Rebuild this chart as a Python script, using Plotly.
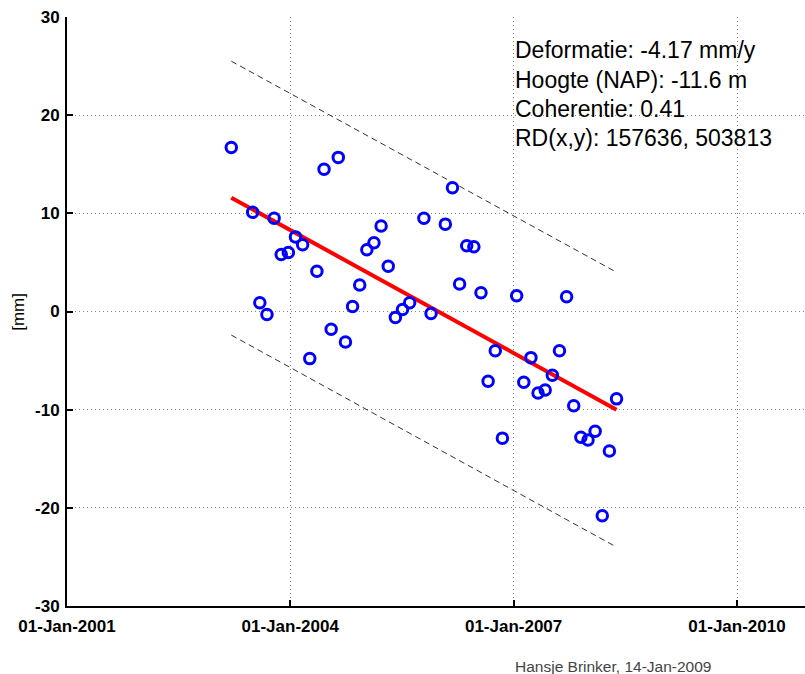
import plotly.graph_objects as go

# ---- data ----
dates = [
    "2003-03-18", "2003-07-01", "2003-08-05", "2003-09-09", "2003-10-14",
    "2003-11-18", "2003-12-23", "2004-01-27", "2004-03-02", "2004-04-06",
    "2004-05-11", "2004-06-15", "2004-07-20", "2004-08-24", "2004-09-28",
    "2004-11-02", "2004-12-07", "2005-01-11", "2005-02-15", "2005-03-22",
    "2005-04-26", "2005-05-31", "2005-07-05", "2005-08-09", "2005-10-18",
    "2005-11-22", "2006-01-31", "2006-03-07", "2006-04-11", "2006-05-16",
    "2006-06-20", "2006-07-25", "2006-08-29", "2006-10-03", "2006-11-07",
    "2007-01-16", "2007-02-20", "2007-03-27", "2007-05-01", "2007-06-05",
    "2007-07-10", "2007-08-14", "2007-09-18", "2007-10-23", "2007-11-27",
    "2008-01-01", "2008-02-05", "2008-03-11", "2008-04-15", "2008-05-20",
]
deformation_mm = [
    16.7, 10.1, 0.9, -0.3, 9.5,
    5.8, 6.0, 7.6, 6.8, -4.8,
    4.1, 14.5, -1.8, 15.7, -3.1,
    0.5, 2.7, 6.3, 7.0, 8.7,
    4.6, -0.6, 0.2, 0.9, 9.5,
    -0.2, 8.9, 12.6, 2.8, 6.7,
    6.6, 1.9, -7.1, -4.0, -12.9,
    1.6, -7.2, -4.7, -8.3, -8.0,
    -6.5, -4.0, 1.5, -9.6, -12.8,
    -13.1, -12.2, -20.8, -14.2, -8.9,
]

trend_dates = ["2003-03-18", "2008-05-20"]
trend_mm = [11.6, -10.0]
upper_mm = [25.5, 4.0]
lower_mm = [-2.4, -24.0]

x_ticks = ["2001-01-01", "2004-01-01", "2007-01-01", "2010-01-01"]
y_ticks = [-30, -20, -10, 0, 10, 20, 30]
y_tick_labels = ["-30", "-20", "-10", "0", "10", "20", "30"]

info_lines = [
    "Deformatie: -4.17 mm/y",
    "Hoogte (NAP): -11.6 m",
    "Coherentie: 0.41",
    "RD(x,y): 157636, 503813",
]
y_label = "[mm]"
footer = "Hansje Brinker, 14-Jan-2009"

FONT = "Liberation Sans, Arial, sans-serif"

fig = go.Figure()
fig.add_trace(go.Scatter(x=trend_dates, y=upper_mm, mode="lines",
                         line=dict(color="#333333", width=1, dash="6px,4px"),
                         hoverinfo="skip"))
fig.add_trace(go.Scatter(x=trend_dates, y=lower_mm, mode="lines",
                         line=dict(color="#333333", width=1, dash="6px,4px"),
                         hoverinfo="skip"))
fig.add_trace(go.Scatter(x=trend_dates, y=trend_mm, mode="lines",
                         line=dict(color="#ff0000", width=4)))
fig.add_trace(go.Scatter(x=dates, y=deformation_mm, mode="markers",
                         marker=dict(symbol="circle-open", size=10.5,
                                     color="#0000ff",
                                     line=dict(color="#0000ff", width=3))))

fig.update_layout(
    width=805, height=674,
    margin=dict(l=67, r=0, t=17, b=68),
    paper_bgcolor="white", plot_bgcolor="white",
    showlegend=False,
    font=dict(family=FONT, color="black"),
)
fig.update_xaxes(
    type="date",
    range=["2001-01-01", "2010-11-30 14:00"],
    tickvals=x_ticks, tickformat="%d-%b-%Y",
    ticks="inside", ticklen=6, tickwidth=1.5, tickcolor="black",
    showline=True, linecolor="black", linewidth=2,
    showgrid=True, gridcolor="#888888", griddash="1px,3px", gridwidth=1,
    zeroline=False, ticklabelstandoff=4,
    tickfont=dict(family=FONT, size=17, color="black", weight="bold"),
)
fig.update_yaxes(
    range=[-30, 30],
    tickvals=y_ticks, ticktext=y_tick_labels,
    ticks="inside", ticklen=6, tickwidth=1.5, tickcolor="black",
    showline=True, linecolor="black", linewidth=2,
    showgrid=True, gridcolor="#888888", griddash="1px,3px", gridwidth=1,
    zeroline=False, ticklabelstandoff=2,
    tickfont=dict(family=FONT, size=17, color="black", weight="bold"),
)

line_y = [0.9435, 0.8932, 0.8441, 0.7940]
for txt, yy in zip(info_lines, line_y):
    fig.add_annotation(text=txt, xref="paper", yref="paper",
                       x=0.6043, y=yy, xanchor="left", yanchor="middle",
                       showarrow=False,
                       font=dict(family=FONT, size=23, color="black"))

fig.add_annotation(text=y_label, xref="paper", yref="paper",
                   x=-0.066, y=0.5, xanchor="center", yanchor="middle",
                   textangle=-90, showarrow=False,
                   font=dict(family=FONT, size=17, color="black"))
fig.add_annotation(text=footer, xref="paper", yref="paper",
                   x=0.6043, y=-0.1024, xanchor="left", yanchor="middle",
                   showarrow=False,
                   font=dict(family=FONT, size=15.5, color="#444444"))

fig.write_html("out.html",
               config={"displayModeBar": False},
               post_script="document.body.style.margin='0';"
                           "document.body.style.overflow='hidden';")
